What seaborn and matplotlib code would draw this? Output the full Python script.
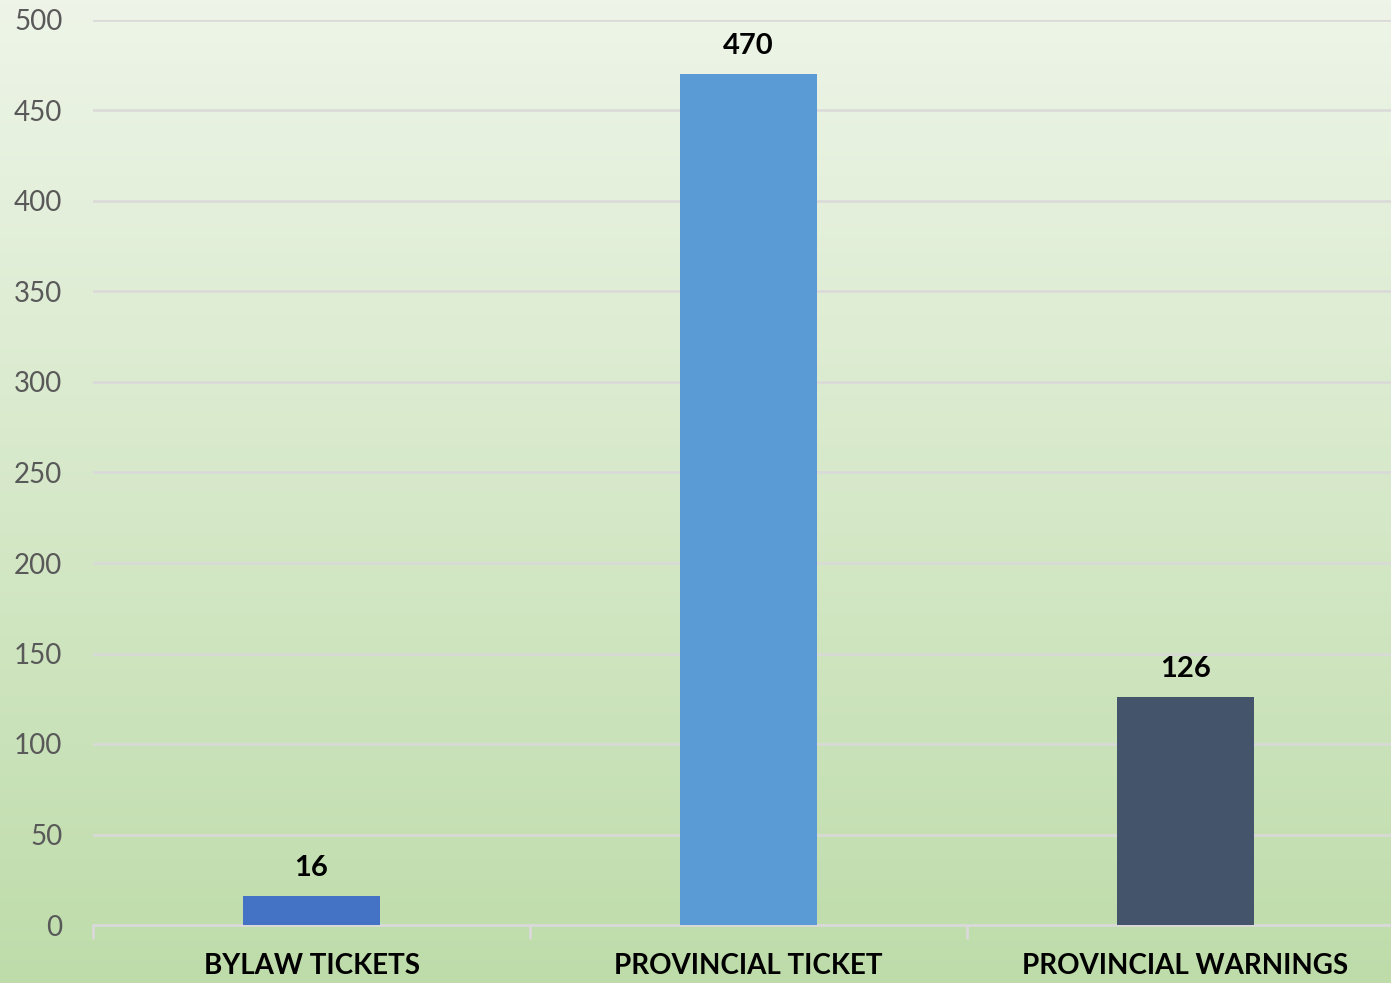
import numpy as np
import pandas as pd
import matplotlib
matplotlib.use("Agg")
import matplotlib.pyplot as plt
import seaborn as sns

categories = ["BYLAW TICKETS", "PROVINCIAL TICKET", "PROVINCIAL WARNINGS"]
values = [16, 470, 126]
bar_colors = ["#4472C4", "#5B9BD5", "#44546A"]
yticks = [0, 50, 100, 150, 200, 250, 300, 350, 400, 450, 500]

sns.set_theme(style="white")
plt.rcParams["font.family"] = ["Lato", "DejaVu Sans"]

W, H = 1391, 983
fig = plt.figure(figsize=(W / 100, H / 100), dpi=100)

# gradient background
bg = fig.add_axes([0, 0, 1, 1], zorder=0)
top = np.array([238, 245, 232]) / 255
bot = np.array([190, 220, 170]) / 255
t = np.linspace(0, 1, 256)[:, None]
grad = top[None, :] * (1 - t) + bot[None, :] * t
bg.imshow(grad[:, None, :], aspect="auto", extent=[0, 1, 0, 1])
bg.axis("off")

left = 93 / W
bottom = (H - 925) / H
height = (925 - 20) / H
ax = fig.add_axes([left, bottom, 1 - left, height], zorder=1)
ax.patch.set_alpha(0)

df = pd.DataFrame({"category": categories, "value": values})
sns.barplot(data=df, x="category", y="value", hue="category", palette=bar_colors,
            width=0.313, ax=ax, legend=False, saturation=1, zorder=3,
            edgecolor="none", linewidth=0)

ax.set_ylim(0, 500)
ax.set_xlim(-0.5, -0.5 + (W - 93) / 437)
ax.set_yticks(yticks)
ax.set_yticklabels([str(v) for v in yticks], color="#595959", fontsize=20)
ax.tick_params(axis="y", length=0, pad=22)
ax.yaxis.grid(True, color="#D9D9D9", linewidth=1.8, zorder=0)
ax.set_axisbelow(True)

for s in ["top", "right", "left"]:
    ax.spines[s].set_visible(False)
ax.spines["bottom"].set_color("#D9D9D9")
ax.spines["bottom"].set_linewidth(2)

ax.set_xticks([0, 1, 2])
ax.set_xticklabels(categories, fontsize=20, fontweight="bold", color="black")
ax.tick_params(axis="x", which="major", length=0, pad=20)
# category boundary ticks
ax.set_xticks([-0.5, 0.5, 1.5], minor=True)
ax.tick_params(axis="x", which="minor", bottom=True, length=10, width=2,
               color="#D9D9D9", direction="out")
ax.set_xlabel("")
ax.set_ylabel("")

for i, v in enumerate(values):
    ax.annotate(str(v), (i, v), xytext=(0, 11), textcoords="offset points",
                ha="center", va="bottom", fontsize=21, fontweight="bold", color="black")

fig.savefig("out.png", dpi=100)
